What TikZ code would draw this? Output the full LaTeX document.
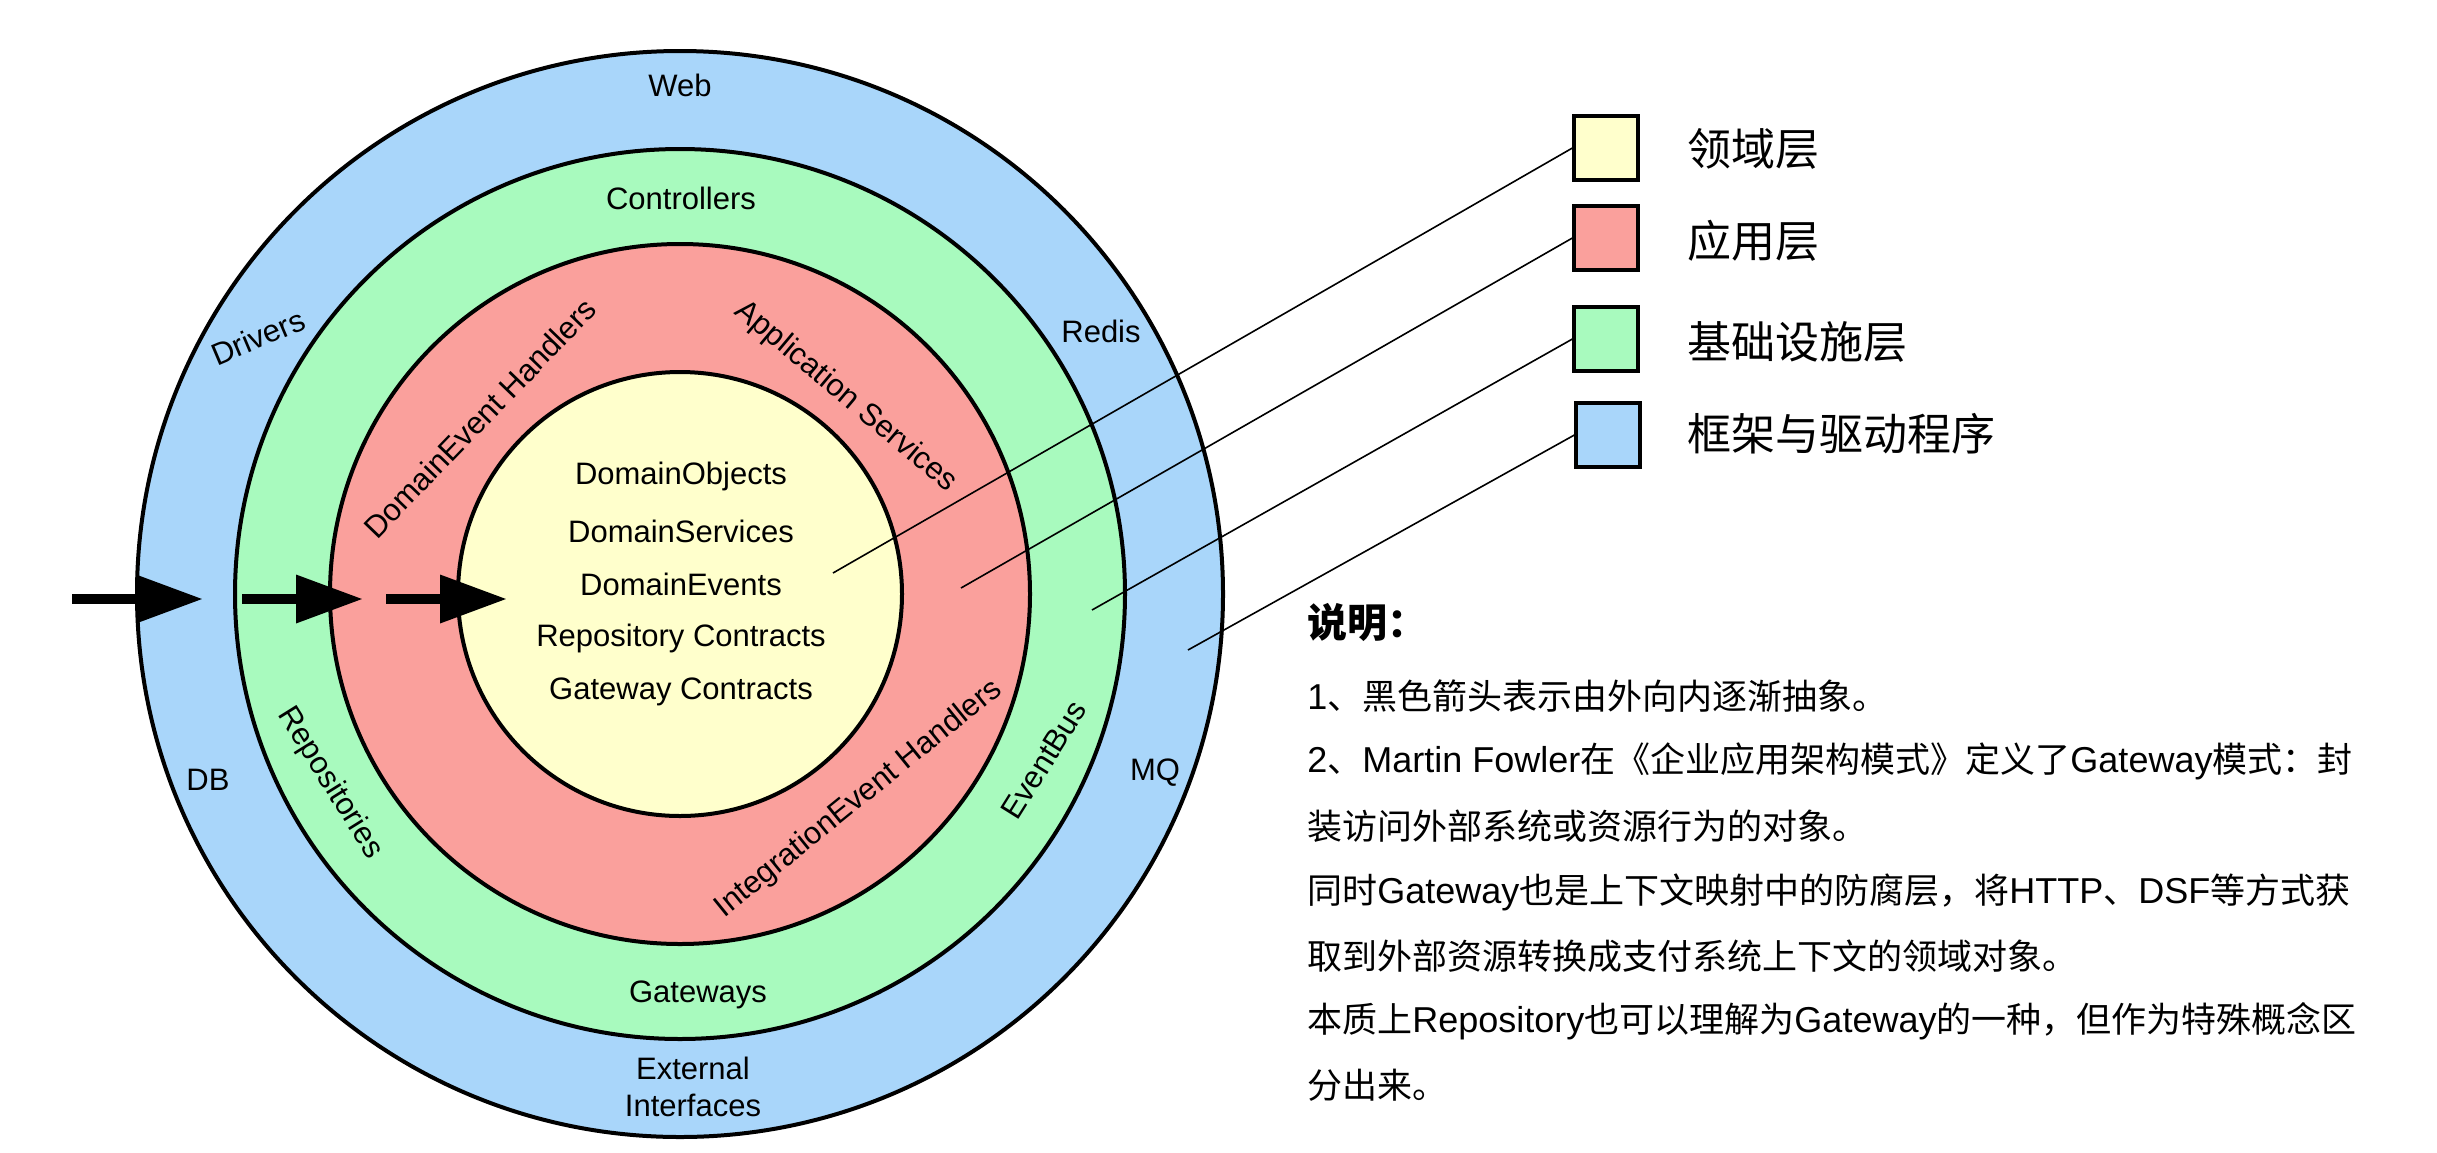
\documentclass[tikz,border=0pt]{standalone}
\usepackage{fontspec}
\setmainfont{Liberation Sans}
\newfontfamily\cjk{Noto Sans CJK SC}
\newcommand\myLat[1]{{\normalfont\fontsize{18}{20}\selectfont #1}}
\usetikzlibrary{arrows.meta}
\definecolor{cblue}{RGB}{169,214,250}
\definecolor{cgreen}{RGB}{168,250,190}
\definecolor{cred}{RGB}{250,160,156}
\definecolor{cyellow}{RGB}{255,255,204}
\begin{document}
\begin{tikzpicture}[x=0.5pt,y=-0.5pt,
  ring/.style={circle, draw=black, line width=2pt, inner sep=0pt, outer sep=0pt},
  lbl/.style={font=\fontsize{15.5}{18}\selectfont, inner sep=0pt, text=black},
  legbox/.style={draw=black, line width=1.6pt, minimum size=32pt, inner sep=0pt},
  legtxt/.style={font=\cjk\fontsize{22}{26}\selectfont, anchor=west, inner sep=0pt},
  note/.style={font=\cjk\fontsize{17.5}{20}\selectfont, anchor=west, inner sep=0pt},
  leader/.style={draw=black, line width=0.8pt},
  bigarrow/.style={line width=5pt, -{Triangle[length=33.5pt,width=23pt]}}]
\useasboundingbox (0,0) rectangle (2437,1152);
\fill[white] (0,0) rectangle (2437,1152);

% rings
\node[ring, fill=cblue,   minimum size=543pt] (outer)  at (680,594) {};
\node[ring, fill=cgreen,  minimum size=445pt] (infra)  at (680,594) {};
\node[ring, fill=cred,    minimum size=350pt] (app)    at (680,594) {};
\node[ring, fill=cyellow, minimum size=222pt] (domain) at (680,594) {};

% blue ring labels
\node[lbl] (web) at (680,85) {Web};
\node[lbl, rotate=23] (drivers) at (258,337) {Drivers};
\node[lbl] (redis) at (1101,331) {Redis};
\node[lbl] (db) at (208,780) {DB};
\node[lbl] (mq) at (1155,773) {MQ};
\node[lbl, align=center, font=\fontsize{15.5}{18.5}\selectfont] (ext) at (693,1087) {External\\Interfaces};

% green ring labels
\node[lbl] (controllers) at (681,198) {Controllers};
\node[lbl] (gateways) at (698,995) {Gateways};
\node[lbl, rotate=-58] (repos) at (330,783) {Repositories};
\node[lbl, rotate=58] (eventbus) at (1044,760) {EventBus};

% red ring labels
\node[lbl, rotate=46] (deh) at (480,418) {DomainEvent Handlers};
\node[lbl, rotate=-40] (appsvc) at (846,397) {Application Services};
\node[lbl, rotate=39] (ieh) at (859,799) {IntegrationEvent Handlers};

% domain labels
\node[lbl] (d1) at (681,476) {DomainObjects};
\node[lbl] (d2) at (681,531) {DomainServices};
\node[lbl] (d3) at (681,584) {DomainEvents};
\node[lbl] (d4) at (681,638) {Repository Contracts};
\node[lbl] (d5) at (681,692) {Gateway Contracts};

% legend
\node[legbox, fill=cyellow] (lg1) at (1606,148) {};
\node[legbox, fill=cred]    (lg2) at (1606,238) {};
\node[legbox, fill=cgreen]  (lg3) at (1606,339) {};
\node[legbox, fill=cblue]   (lg4) at (1608,435) {};
\node[legtxt] (lt1) at (1687,149) {领域层};
\node[legtxt] (lt2) at (1687,241) {应用层};
\node[legtxt] (lt3) at (1687,342) {基础设施层};
\node[legtxt] (lt4) at (1687,434) {框架与驱动程序};

% leader lines
\coordinate (p1) at (833,573);
\coordinate (p2) at (961,588);
\coordinate (p3) at (1092,610);
\coordinate (p4) at (1188,650);
\draw[leader] (lg1.west) -- (p1);
\draw[leader] (lg2.west) -- (p2);
\draw[leader] (lg3.west) -- (p3);
\draw[leader] (lg4.west) -- (p4);

% arrows
\coordinate (a1s) at (72,599);  \coordinate (a1e) at (203,599);
\coordinate (a2s) at (242,599); \coordinate (a2e) at (363,599);
\coordinate (a3s) at (386,599); \coordinate (a3e) at (507,599);
\draw[bigarrow] (a1s) -- (a1e);
\draw[bigarrow] (a2s) -- (a2e);
\draw[bigarrow] (a3s) -- (a3e);

% notes
\node[note, font=\cjk\bfseries\fontsize{20}{24}\selectfont] (n0) at (1307,622) {说明：};
\node[note] (n1) at (1307,696) {\myLat{1}、黑色箭头表示由外向内逐渐抽象。};
\node[note] (n2) at (1307,761) {\myLat{2}、\myLat{Martin Fowler}在《企业应用架构模式》定义了\myLat{Gateway}模式：封};
\node[note] (n3) at (1307,826) {装访问外部系统或资源行为的对象。};
\node[note] (n4) at (1307,892) {同时\myLat{Gateway}也是上下文映射中的防腐层，将\myLat{HTTP}、\myLat{DSF}等方式获};
\node[note] (n5) at (1307,956) {取到外部资源转换成支付系统上下文的领域对象。};
\node[note] (n6) at (1307,1021) {本质上\myLat{Repository}也可以理解为\myLat{Gateway}的一种，但作为特殊概念区};
\node[note] (n7) at (1307,1085) {分出来。};
\end{tikzpicture}
\end{document}
